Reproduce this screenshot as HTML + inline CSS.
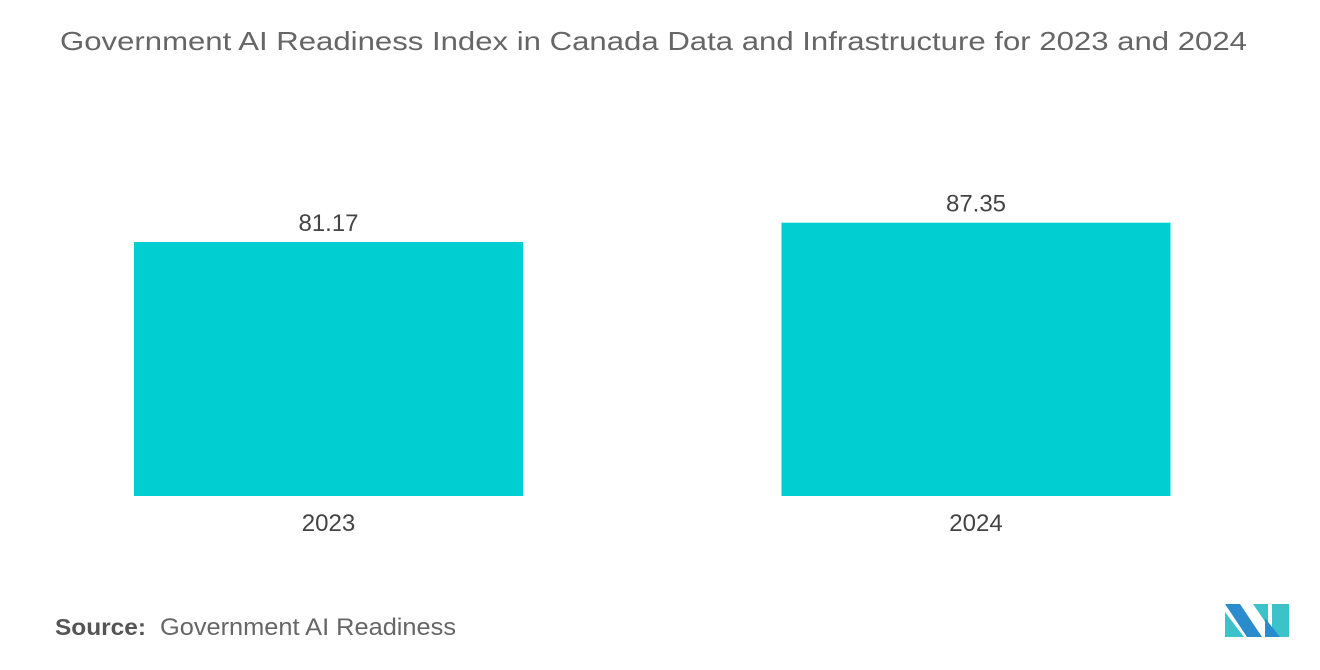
<!DOCTYPE html>
<html><head><meta charset="utf-8"><style>
body{margin:0;width:1320px;height:665px;background:#fff;overflow:hidden;font-family:"Liberation Sans",sans-serif}
</style></head><body>
<svg width="1320" height="665">
<text x="60" y="50" font-size="26" fill="#666" textLength="1187" lengthAdjust="spacingAndGlyphs">Government AI Readiness Index in Canada Data and Infrastructure for 2023 and 2024</text>
<g id="bars"></g>
<text x="55" y="635" font-size="23" fill="#555" font-weight="bold" textLength="91" lengthAdjust="spacingAndGlyphs">Source:</text>
<text x="160" y="635" font-size="24" fill="#666" textLength="296" lengthAdjust="spacingAndGlyphs">Government AI Readiness</text>
<g>
<polygon points="1225,604 1240,604 1262,637 1247,637" fill="#2a8ccc"/>
<polygon points="1225,612 1244,637 1225,637" fill="#3cc3c9"/>
<polygon points="1253,604 1268,604 1268,626" fill="#3cc3c9"/>
<polygon points="1272,604 1289,604 1289,637 1272,637" fill="#3cc3c9"/>
<polygon points="1265,618 1280,637 1265,637" fill="#2a8ccc"/>
</g>
</svg>
<script>
const categories=["2023","2024"];
const values=[81.17,87.35];
const labels=["81.17","87.35"];
const base=496, scale=3.129;
function y(v){return base-v*scale;}
function xc(i){return 328.5+i*647.5;}
const g=document.getElementById('bars');
const ns="http://www.w3.org/2000/svg";
categories.forEach((c,i)=>{
 const r=document.createElementNS(ns,'rect');
 r.setAttribute('x',xc(i)-194.5);r.setAttribute('width',389);
 r.setAttribute('y',y(values[i]));r.setAttribute('height',base-y(values[i]));
 r.setAttribute('fill','#00ced1');
 
 
 g.appendChild(r);
 const t=document.createElementNS(ns,'text');
 t.setAttribute('x',xc(i));t.setAttribute('y',y(values[i])-11);
 t.setAttribute('text-anchor','middle');t.setAttribute('font-size','24');t.setAttribute('fill','#444');
 t.textContent=labels[i];
 
 
 g.appendChild(t);
 const a=document.createElementNS(ns,'text');
 a.setAttribute('x',xc(i));a.setAttribute('y',531);
 a.setAttribute('text-anchor','middle');a.setAttribute('font-size','24');a.setAttribute('fill','#444');
 a.textContent=c;
 
 
 g.appendChild(a);
});
</script>
</body></html>
